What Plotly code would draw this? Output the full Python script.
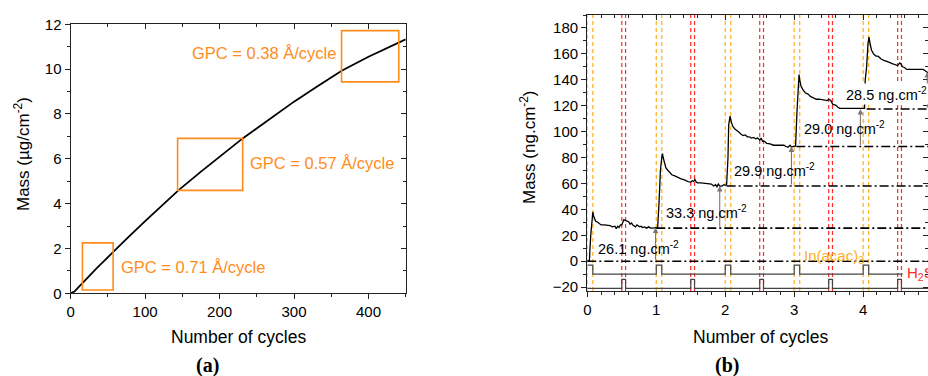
import plotly.graph_objects as go

# ---------------- Panel (a) data ----------------
cycles_a = [0, 5, 10, 16, 25, 35, 45, 57, 75, 100, 125, 145, 175, 200, 231, 260, 300, 330, 364, 400, 441, 450]
mass_a = [0, 0.08, 0.25, 0.47, 0.78, 1.12, 1.45, 1.85, 2.43, 3.22, 3.98, 4.6, 5.43, 6.1, 6.91, 7.6, 8.55, 9.2, 9.93, 10.55, 11.18, 11.33]

box_x0 = [15.7, 143.6, 363.8]
box_x1 = [57.0, 231.0, 440.7]
box_y0 = [0.15, 4.59, 9.43]
box_y1 = [2.25, 6.91, 11.72]
gpc_labels = ["GPC = 0.71 Å/cycle", "GPC = 0.57 Å/cycle", "GPC = 0.38 Å/cycle"]
gpc_x = [64.8, 238.0, 160.0]
gpc_y = [1.17, 5.83, 10.74]

# ---------------- Panel (b) data ----------------
cycles_b = [0.00, 0.03, 0.05, 0.07, 0.08, 0.09, 0.10, 0.12, 0.15, 0.18, 0.20, 0.25, 0.30, 0.33, 0.36,
            0.40, 0.42, 0.44, 0.46, 0.48, 0.50, 0.53, 0.55, 0.57, 0.60, 0.62, 0.64, 0.66, 0.68, 0.70,
            0.72, 0.74, 0.76, 0.78, 0.80, 0.83, 0.86, 0.89, 0.92, 0.95, 0.98, 1.00,
            1.02, 1.04, 1.06, 1.08, 1.09, 1.10, 1.12, 1.14, 1.17, 1.20, 1.23, 1.26, 1.30, 1.33, 1.36,
            1.40, 1.43, 1.46, 1.50, 1.52, 1.54, 1.56, 1.58, 1.60, 1.65, 1.70, 1.75, 1.80, 1.83, 1.86,
            1.88, 1.90, 1.92, 1.95, 1.98, 2.00,
            2.02, 2.04, 2.05, 2.07, 2.09, 2.11, 2.14, 2.17, 2.20, 2.23, 2.26, 2.29, 2.32, 2.35, 2.38,
            2.41, 2.44, 2.47, 2.50, 2.52, 2.54, 2.57, 2.60, 2.65, 2.70, 2.75, 2.80, 2.85, 2.88, 2.91,
            2.94, 2.96, 2.98, 3.00,
            3.02, 3.04, 3.06, 3.07, 3.08, 3.10, 3.13, 3.16, 3.20, 3.24, 3.28, 3.32, 3.36, 3.40, 3.44,
            3.48, 3.50, 3.53, 3.56, 3.60, 3.63, 3.66, 3.70, 3.75, 3.80, 3.85, 3.90, 3.94, 3.97, 4.00,
            4.02, 4.03, 4.05, 4.07, 4.085, 4.10, 4.12, 4.15, 4.18, 4.22, 4.26, 4.30, 4.34, 4.38, 4.42,
            4.46, 4.50, 4.53, 4.55, 4.57, 4.60, 4.63, 4.70, 4.80, 4.87, 4.90, 4.93, 4.95]
mass_b = [0, 0.5, 20, 36, 38, 35, 33, 31, 30, 29, 28, 28, 27.5, 27.5, 26.5,
          27, 25, 27, 26, 28, 28, 32, 31.5, 31, 30.5, 28.5, 29.5, 28, 27.5, 26.5,
          28, 27, 26.5, 27, 26, 26.5, 25.5, 26.5, 25.5, 25.5, 25.5, 25.5,
          26, 45, 70, 80, 83, 80, 76, 72, 70, 68, 66.5, 66, 65, 64, 63.5,
          63, 62, 61.5, 61, 62, 61.5, 63, 61, 60.5, 60.5, 60, 60, 59.5, 58, 59,
          57.5, 59.5, 58, 58, 59, 58.5,
          59, 80, 105, 112, 107, 104, 102, 101, 99.5, 98, 97, 97.5, 96, 96, 95,
          95.5, 94.5, 95, 93.5, 95, 92.5, 92.5, 91, 90.5, 89.5, 89.5, 89.5, 89.5, 88.5, 88,
          89.5, 88, 88.5, 88.5,
          89, 115, 140, 144, 140, 135, 132, 130, 129, 127, 126, 125, 125, 124.5, 124.5,
          124, 125, 124, 121, 120.5, 119, 118, 118, 118, 118, 118, 118, 117.5, 117.5, 117.5,
          118, 140, 150, 168, 173, 168, 163, 160, 158.5, 158, 156, 155, 154.5, 153.5, 152.5,
          151.5, 151, 153, 152, 150, 149.5, 148, 148, 148, 148, 147, 146, 145]

level_values = [0, 25.5, 58, 88.5, 117.5]
level_starts = [0, 1.0, 2.02, 3.03, 4.05]

arrow_x = [0.99, 1.92, 2.96, 3.96, 4.93]
arrow_from = [0, 25.5, 58, 88.5, 117.5]
arrow_to = [26, 58, 88.5, 117.5, 146]

gain_labels = ["26.1 ng.cm<sup>-2</sup>", "33.3 ng.cm<sup>-2</sup>", "29.9 ng.cm<sup>-2</sup>",
               "29.0 ng.cm<sup>-2</sup>", "28.5 ng.cm<sup>-2</sup>"]
gain_x = [0.126, 1.116, 2.10, 3.107, 3.725]
gain_y = [10.5, 38, 70.4, 102.6, 128.8]

inacac_starts = [0.0, 1.0, 2.0, 3.0, 4.0]
inacac_width = 0.08
h2s_starts = [0.5, 1.5, 2.5, 3.5, 4.5]
h2s_width = 0.055
inacac_low, inacac_high, inacac_end = -10, -3, 4.57
h2s_low, h2s_high = -21, -14

XMAX_B = 4.94

ORANGE = "#ff8c1a"
YORANGE = "#ffae1a"
RED = "#ff2a2a"
FONT = "Arial, Liberation Sans, sans-serif"

fig = go.Figure()

# Panel (a) curve
fig.add_trace(go.Scatter(x=cycles_a, y=mass_a, mode="lines", line=dict(color="black", width=1.8),
                         xaxis="x", yaxis="y", showlegend=False, hoverinfo="skip"))

# Panel (b) pulse sequences
def pulse_path(starts, width, low, high, x_end):
    xs, ys = [], []
    first = True
    for s in starts:
        if first and s == 0:
            xs += [s, s + width, s + width]
            ys += [high, high, low]
        else:
            xs += [s, s, s + width, s + width]
            ys += [low, high, high, low]
        first = False
    xs.append(x_end)
    ys.append(low)
    if xs[0] != 0:
        xs.insert(0, 0)
        ys.insert(0, low)
    return xs, ys

px_, py_ = pulse_path(inacac_starts, inacac_width, inacac_low, inacac_high, inacac_end)
fig.add_trace(go.Scatter(x=px_, y=py_, mode="lines", line=dict(color="#444", width=1.2),
                         xaxis="x2", yaxis="y2", showlegend=False, hoverinfo="skip"))
hx_, hy_ = pulse_path(h2s_starts, h2s_width, h2s_low, h2s_high, 5.0)
fig.add_trace(go.Scatter(x=hx_, y=hy_, mode="lines", line=dict(color="#444", width=1.2),
                         xaxis="x2", yaxis="y2", showlegend=False, hoverinfo="skip"))

# dash-dot reference levels
for lv, st in zip(level_values, level_starts):
    fig.add_trace(go.Scatter(x=[st, 5.0], y=[lv, lv], mode="lines",
                             line=dict(color="black", width=1.6, dash="9px,3px,2px,3px"),
                             xaxis="x2", yaxis="y2", showlegend=False, hoverinfo="skip"))

# mass trace
fig.add_trace(go.Scatter(x=cycles_b, y=mass_b, mode="lines", line=dict(color="black", width=1.3),
                         xaxis="x2", yaxis="y2", showlegend=False, hoverinfo="skip"))

shapes = []
for x0, x1, y0, y1 in zip(box_x0, box_x1, box_y0, box_y1):
    shapes.append(dict(type="rect", xref="x", yref="y", x0=x0, x1=x1, y0=y0, y1=y1,
                       line=dict(color=ORANGE, width=1.6)))
for s in inacac_starts:
    for xv in (s, s + inacac_width):
        shapes.append(dict(type="line", xref="x2", yref="y2 domain", x0=xv, x1=xv, y0=0, y1=1,
                           line=dict(color=YORANGE, width=1.2, dash="4px,3px"), layer="below"))
for s in h2s_starts:
    for xv in (s, s + h2s_width):
        shapes.append(dict(type="line", xref="x2", yref="y2 domain", x0=xv, x1=xv, y0=0, y1=1,
                           line=dict(color=RED, width=1.2, dash="4px,3px"), layer="below"))

annotations = []
for t, x, y in zip(gpc_labels, gpc_x, gpc_y):
    annotations.append(dict(text=t, x=x, y=y, xref="x", yref="y", xanchor="left", yanchor="middle",
                            showarrow=False, font=dict(family=FONT, size=16.5, color=ORANGE)))
for xa, y0, y1 in zip(arrow_x, arrow_from, arrow_to):
    annotations.append(dict(text="", x=xa, y=y1, ax=xa, ay=y0, xref="x2", yref="y2",
                            axref="x2", ayref="y2", showarrow=True, arrowhead=2, arrowsize=1,
                            arrowwidth=1.1, arrowcolor="#777", standoff=0))
for i, (t, x, y) in enumerate(zip(gain_labels, gain_x, gain_y)):
    annotations.append(dict(text=t, x=x, y=y, xref="x2", yref="y2", xanchor="left", yanchor="middle",
                            showarrow=False, font=dict(family=FONT, size=14.5, color="black"),
                            bgcolor="white" if i == 4 else None, borderpad=1))
annotations.append(dict(text="In(acac)<sub>3</sub>", x=3.12, y=3.5, xref="x2", yref="y2",
                        xanchor="left", yanchor="middle", showarrow=False,
                        font=dict(family=FONT, size=15, color=YORANGE)))
annotations.append(dict(text="H<sub>2</sub>S", x=4.6, y=-9.8, xref="x2", yref="y2",
                        xanchor="left", yanchor="middle", showarrow=False,
                        font=dict(family=FONT, size=15, color=RED)))
# axis titles
annotations.append(dict(text="Mass (µg/cm<sup>-2</sup>)", x=22 / 928, y=(376 - 154) / 376,
                        xref="paper", yref="paper", textangle=-90, showarrow=False,
                        xanchor="center", yanchor="middle", font=dict(family=FONT, size=17, color="black")))
annotations.append(dict(text="Mass (ng.cm<sup>-2</sup>)", x=528 / 928, y=(376 - 147) / 376,
                        xref="paper", yref="paper", textangle=-90, showarrow=False,
                        xanchor="center", yanchor="middle", font=dict(family=FONT, size=17, color="black")))
annotations.append(dict(text="Number of cycles", x=238 / 928, y=(376 - 337) / 376, xref="paper", yref="paper",
                        showarrow=False, xanchor="center", yanchor="middle",
                        font=dict(family=FONT, size=17.5, color="black")))
annotations.append(dict(text="Number of cycles", x=760 / 928, y=(376 - 337) / 376, xref="paper", yref="paper",
                        showarrow=False, xanchor="center", yanchor="middle",
                        font=dict(family=FONT, size=17.5, color="black")))
annotations.append(dict(text="<b>(a)</b>", x=207 / 928, y=(376 - 365) / 376, xref="paper", yref="paper",
                        showarrow=False, xanchor="center", yanchor="middle",
                        font=dict(family="Liberation Serif, Times New Roman, serif", size=20, color="black")))
annotations.append(dict(text="<b>(b)</b>", x=727 / 928, y=(376 - 365) / 376, xref="paper", yref="paper",
                        showarrow=False, xanchor="center", yanchor="middle",
                        font=dict(family="Liberation Serif, Times New Roman, serif", size=20, color="black")))

tickfont = dict(family=FONT, size=15, color="black")
LC = "#222"

def base_axis(**kw):
    d = dict(showgrid=False, zeroline=False, showline=True, linecolor=LC, linewidth=1.3,
             ticks="outside", ticklen=5, tickwidth=1.2, tickcolor=LC, tickfont=tickfont,
             autorange=False, fixedrange=True, automargin=False)
    d.update(kw)
    return d

def mirror_axis(**kw):
    d = dict(showgrid=False, zeroline=False, showline=True, linecolor=LC, linewidth=1.3,
             ticks="inside", ticklen=5, tickwidth=1.2, tickcolor=LC, showticklabels=False,
             autorange=False, fixedrange=True, automargin=False)
    d.update(kw)
    return d

dom_xa = [70.7 / 928, 405.7 / 928]
dom_ya = [(376 - 293.3) / 376, (376 - 24.3) / 376]
dom_xb = [587.3 / 928, 1.0]
dom_yb = [(376 - 291) / 376, (376 - 15) / 376]

fig.update_layout(
    template="none",
    width=928, height=376, margin=dict(l=0, r=0, t=0, b=0, pad=0, autoexpand=False),
    paper_bgcolor="white", plot_bgcolor="white", showlegend=False,
    font=dict(family=FONT, color="black"),
    shapes=shapes, annotations=annotations,
    xaxis=base_axis(domain=dom_xa, anchor="y", range=[0, 450], tickvals=[0, 100, 200, 300, 400],
                    minor=dict(dtick=50, tick0=0, ticks="outside", ticklen=3, tickcolor=LC)),
    yaxis=base_axis(domain=dom_ya, anchor="x", range=[0, 12], tickvals=[0, 2, 4, 6, 8, 10, 12],
                    minor=dict(dtick=1, tick0=0, ticks="outside", ticklen=3, tickcolor=LC)),
    xaxis3=mirror_axis(overlaying="x", anchor="y", side="top", range=[0, 450], tickvals=[0, 100, 200, 300, 400],
                       minor=dict(dtick=50, tick0=0, ticks="inside", ticklen=3, tickcolor=LC)),
    yaxis3=mirror_axis(overlaying="y", anchor="x", side="right", range=[0, 12], tickvals=[0, 2, 4, 6, 8, 10, 12],
                       minor=dict(dtick=1, tick0=0, ticks="inside", ticklen=3, tickcolor=LC)),
    xaxis2=base_axis(domain=dom_xb, anchor="y2", range=[0, XMAX_B], tickvals=[0, 1, 2, 3, 4],
                     minor=dict(dtick=0.2, tick0=0, ticks="outside", ticklen=3, tickcolor=LC)),
    yaxis2=base_axis(domain=dom_yb, anchor="x2", range=[-23, 190],
                     tickvals=[-20, 0, 20, 40, 60, 80, 100, 120, 140, 160, 180],
                     minor=dict(dtick=10, tick0=0, ticks="outside", ticklen=3, tickcolor=LC)),
    xaxis4=mirror_axis(overlaying="x2", anchor="y2", side="top", range=[0, XMAX_B], tickvals=[0, 1, 2, 3, 4],
                       minor=dict(dtick=0.2, tick0=0, ticks="inside", ticklen=3, tickcolor=LC)),
    yaxis4=mirror_axis(overlaying="y2", anchor="x2", side="right", range=[-23, 190], showline=False,
                       tickvals=[-20, 0, 20, 40, 60, 80, 100, 120, 140, 160, 180],
                       minor=dict(dtick=10, tick0=0, ticks="inside", ticklen=3, tickcolor=LC)),
)

# dummy invisible traces so overlay axes are drawn
fig.add_trace(go.Scatter(x=[None], y=[None], xaxis="x3", yaxis="y3", showlegend=False, hoverinfo="skip"))
fig.add_trace(go.Scatter(x=[None], y=[None], xaxis="x4", yaxis="y4", showlegend=False, hoverinfo="skip"))

fig.write_html("out.html")
